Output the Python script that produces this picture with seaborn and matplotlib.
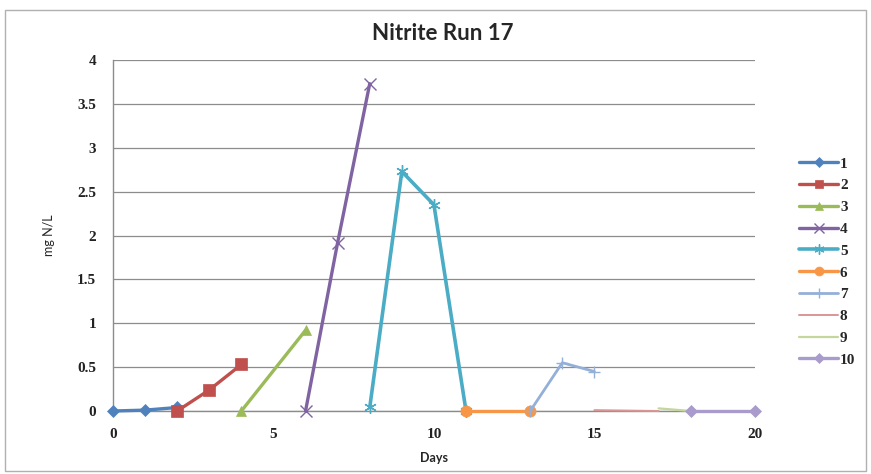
import numpy as np
import pandas as pd
import matplotlib
matplotlib.use("Agg")
import matplotlib.pyplot as plt
import seaborn as sns
from matplotlib.patches import Rectangle

# Data (days, mg N/L) for each run segment
days_1 = [0, 1, 2]
vals_1 = [0.0, 0.01, 0.04]
days_2 = [2, 3, 4]
vals_2 = [0.0, 0.24, 0.53]
days_3 = [4, 6]
vals_3 = [0.0, 0.92]
days_4 = [6, 7, 8]
vals_4 = [0.0, 1.92, 3.73]
days_5 = [8, 9, 10, 11]
vals_5 = [0.04, 2.73, 2.35, 0.0]
days_6 = [11, 13]
vals_6 = [0.0, 0.0]
days_7 = [13, 14, 15]
vals_7 = [0.0, 0.55, 0.45]
days_8 = [15, 17]
vals_8 = [0.01, 0.0]
days_9 = [17, 18]
vals_9 = [0.03, 0.0]
days_10 = [18, 20]
vals_10 = [0.0, 0.0]

series_names = ["1", "2", "3", "4", "5", "6", "7", "8", "9", "10"]
all_days = [days_1, days_2, days_3, days_4, days_5, days_6, days_7, days_8, days_9, days_10]
all_vals = [vals_1, vals_2, vals_3, vals_4, vals_5, vals_6, vals_7, vals_8, vals_9, vals_10]

colors = ["#4F81BD", "#C0504D", "#9BBB59", "#8064A2", "#4BACC6",
          "#F79646", "#95B0D8", "#D99694", "#C3D69B", "#A99BCB"]
markers = ["D", "s", "^", "x", (6, 2, 0), "o", "+", None, None, "D"]
msizes = [6, 8, 7, 9, 9, 8, 9, 0, 0, 6]
lwidths = [2.4, 2.4, 2.4, 2.4, 2.6, 2.4, 2.0, 1.4, 1.6, 2.4]

rows = []
for name, d, v in zip(series_names, all_days, all_vals):
    for x, y in zip(d, v):
        rows.append({"series": name, "day": x, "value": y})
df = pd.DataFrame(rows)

sns.set_style("white")
fig = plt.figure(figsize=(8.71, 4.74), dpi=100)
ax = fig.add_axes([0.1297, 0.1329, 0.737, 0.7405])

handles = []
for name, col, mk, ms, lw in zip(series_names, colors, markers, msizes, lwidths):
    sub = df[df["series"] == name]
    sns.lineplot(data=sub, x="day", y="value", ax=ax, color=col, linewidth=lw,
                 marker=mk if mk is not None else "", markersize=ms,
                 markeredgecolor=col, markeredgewidth=1.0 if mk in ("x", "+") or isinstance(mk, tuple) else 0.5,
                 legend=False, zorder=3, clip_on=False)
    handles.append(ax.lines[-1])

ax.set_xlim(0, 20)
ax.set_ylim(0, 4)
ax.set_xticks([0, 5, 10, 15, 20])
ax.set_yticks(np.arange(0, 4.01, 0.5))
ax.set_yticklabels(["0", "0.5", "1", "1.5", "2", "2.5", "3", "3.5", "4"])
ax.grid(axis="y", color="#8c8c8c", linewidth=0.9)
ax.set_axisbelow(True)
for s in ["top", "right"]:
    ax.spines[s].set_visible(False)
for s in ["left", "bottom"]:
    ax.spines[s].set_color("#8c8c8c")
    ax.spines[s].set_linewidth(1.0)
ax.tick_params(axis="both", direction="out", length=5, color="#8c8c8c", width=1.0,
               labelsize=11, pad=7)
for lab in ax.get_xticklabels() + ax.get_yticklabels():
    lab.set_family("Liberation Serif")
    lab.set_fontweight("bold")
    lab.set_color("#222222")

ax.set_xlabel("Days", family="Lato", fontweight="bold", fontsize=9, labelpad=8)
ax.set_ylabel("mg N/L", family="Lato", fontsize=9, labelpad=16)
fig.text(0.508, 0.93, "Nitrite Run 17", ha="center", va="center",
         family="Lato", fontweight="bold", fontsize=16)

leg = ax.legend(handles, series_names, loc="center left", bbox_to_anchor=(1.048, 0.425),
                frameon=False, handlelength=2.5, handletextpad=0.15, labelspacing=0.53,
                markerscale=0.8,
                prop={"family": "Liberation Serif", "weight": "bold", "size": 11})

fig.patches.append(Rectangle((0.006, 0.006), 0.988, 0.972, transform=fig.transFigure,
                             fill=False, edgecolor="#b0b0b0", linewidth=1.0))

fig.savefig("out.png", dpi=100)
